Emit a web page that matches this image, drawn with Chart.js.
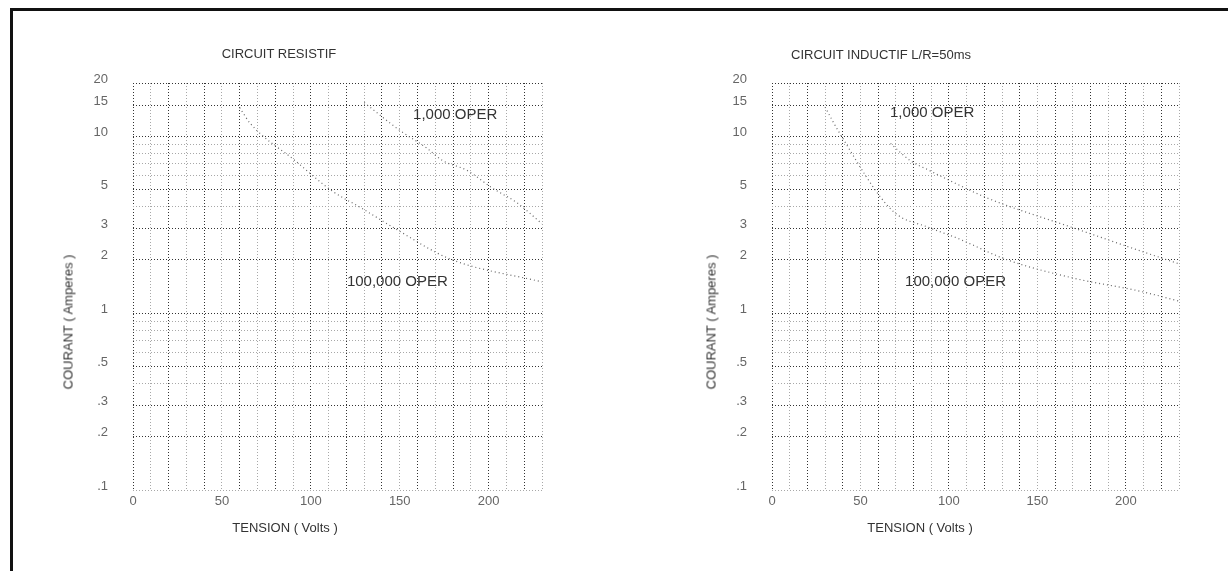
<!DOCTYPE html>
<html>
<head>
<meta charset="utf-8">
<script src="https://cdn.jsdelivr.net/npm/chart.js@4/dist/chart.umd.min.js"></script>
<style>
  html, body { margin: 0; padding: 0; background: #fff; }
  body { width: 1228px; height: 571px; position: relative; overflow: hidden; font-family: "Liberation Sans", Arial, sans-serif; }
  .frame { position: absolute; left: 10px; top: 8px; width: 1240px; height: 600px; border-left: 3px solid #111; border-top: 3px solid #111; }
  .box { position: absolute; top: 0; width: 614px; height: 571px; }
  .txt { position: absolute; color: #333; white-space: nowrap; font-size: 13px; line-height: 1; }
  .center { transform: translateX(-50%); }
  .rot { transform: translate(-50%, -50%) rotate(-90deg); }
</style>
</head>
<body>
<div class="frame"></div>
<div class="box" style="left:0"><canvas id="resistif" width="614" height="571"></canvas></div>
<div class="box" style="left:614px"><canvas id="inductif" width="614" height="571"></canvas></div>

<div class="txt center" style="left:279px; top:47px;">CIRCUIT RESISTIF</div>
<div class="txt center" style="left:881px; top:48px;">CIRCUIT INDUCTIF L/R=50ms</div>
<div class="txt center" style="left:285px; top:521px;">TENSION ( Volts )</div>
<div class="txt center" style="left:920px; top:521px;">TENSION ( Volts )</div>
<div class="txt rot" style="left:68px; top:322px;">COURANT ( Amperes )</div>
<div class="txt rot" style="left:711px; top:322px;">COURANT ( Amperes )</div>

<script>
// axis ticks
const xTickLabels = [0, 50, 100, 150, 200];
const yGridValues = [0.1, 0.2, 0.3, 0.4, 0.5, 0.6, 0.7, 0.8, 0.9, 1, 2, 3, 4, 5, 6, 7, 8, 9, 10, 15, 20];
const yTickValues = [0.1, 0.2, 0.3, 0.5, 1, 2, 3, 5, 10, 15, 20];
const yTickLabels = [".1", ".2", ".3", ".5", "1", "2", "3", "5", "10", "15", "20"];

// CIRCUIT RESISTIF
const resVolts1k = [130, 150, 165, 174, 188, 202, 216, 230];
const resAmps1k = [15.5, 10.8, 8.6, 7.3, 6.4, 5.1, 4.2, 3.2];
const resVolts100k = [60, 66, 91, 112, 128, 150, 178, 230];
const resAmps100k = [14.5, 11.8, 7.3, 4.9, 3.95, 2.9, 2.03, 1.5];

// CIRCUIT INDUCTIF L/R=50ms
const indVolts1k = [67, 78, 89, 104, 121, 133, 170, 208, 230];
const indAmps1k = [9.1, 7.3, 6.4, 5.4, 4.5, 4.05, 3.04, 2.25, 1.9];
const indVolts100k = [30, 38, 68, 89, 104, 133, 170, 208, 230];
const indAmps100k = [14.6, 10.5, 3.8, 3.04, 2.67, 2.0, 1.58, 1.33, 1.17];

// curve captions (volts, amperes)
const operText = ["1,000 OPER", "100,000 OPER"];
const resOperVolts = [157.5, 120.3];
const resOperAmps = [13.2, 1.5];
const indOperVolts = [66.7, 75.2];
const indOperAmps = [13.5, 1.5];

const FONT = '"Liberation Sans", Arial, sans-serif';

const operLabels = {
  id: "operLabels",
  afterDatasetsDraw(chart, args, opts) {
    const { ctx, scales } = chart;
    ctx.save();
    ctx.font = "15px " + FONT;
    ctx.fillStyle = "#333";
    ctx.textBaseline = "middle";
    opts.text.forEach((t, i) => {
      ctx.fillText(t, scales.x.getPixelForValue(opts.volts[i]), scales.y.getPixelForValue(opts.amps[i]));
    });
    ctx.restore();
  },
};

function toPoints(volts, amps) {
  return volts.map((v, i) => ({ x: v, y: amps[i] }));
}

function curve(volts, amps) {
  return {
    data: toPoints(volts, amps),
    borderColor: "#666",
    borderWidth: 1.2,
    borderDash: [1, 3],
    pointRadius: 0,
    fill: false,
    cubicInterpolationMode: "monotone",
  };
}

function makeChart(id, datasets, labelVolts, labelAmps, axisWidth, padRight) {
  return new Chart(document.getElementById(id), {
    type: "line",
    data: { datasets: datasets },
    options: {
      responsive: false,
      animation: false,
      devicePixelRatio: 1,
      layout: { padding: { left: 0, right: padRight, top: 83, bottom: 51 } },
      plugins: {
        legend: { display: false },
        tooltip: { enabled: false },
        operLabels: { text: operText, volts: labelVolts, amps: labelAmps },
      },
      scales: {
        x: {
          type: "linear",
          min: 0,
          max: 230,
          afterFit: (scale) => { scale.height = 30; },
          ticks: {
            stepSize: 10,
            autoSkip: false,
            maxRotation: 0,
            padding: 4,
            color: "#666",
            font: { family: FONT, size: 13 },
            callback: (value) => (xTickLabels.includes(value) ? String(value) : ""),
          },
          grid: {
            drawTicks: false,
            color: (c) => (c.index % 2 ? "#a8a8a8" : "#333"),
            lineWidth: 1,
          },
          border: { display: false, dash: [1, 2] },
        },
        y: {
          type: "logarithmic",
          min: 0.1,
          max: 20,
          afterFit: (scale) => { scale.width = axisWidth; },
          afterBuildTicks: (scale) => {
            scale.ticks = yGridValues.map((v) => ({ value: v }));
          },
          ticks: {
            autoSkip: false,
            padding: 25,
            labelOffset: -4,
            color: "#666",
            font: { family: FONT, size: 13 },
            callback: (value) => {
              const i = yTickValues.findIndex((t) => Math.abs(t - value) < 1e-9);
              return i >= 0 ? yTickLabels[i] : "";
            },
          },
          grid: {
            drawTicks: false,
            color: (c) => (c.tick && [1, 2, 3, 5, 10, 15, 20, 0.2, 0.3, 0.5].includes(c.tick.value) ? "#333" : "#a8a8a8"),
            lineWidth: 1,
          },
          border: { display: false, dash: [1, 2] },
        },
      },
    },
    plugins: [operLabels],
  });
}

makeChart("resistif", [curve(resVolts1k, resAmps1k), curve(resVolts100k, resAmps100k)], resOperVolts, resOperAmps, 133, 72);
makeChart("inductif", [curve(indVolts1k, indAmps1k), curve(indVolts100k, indAmps100k)], indOperVolts, indOperAmps, 158, 49);
</script>
</body>
</html>
